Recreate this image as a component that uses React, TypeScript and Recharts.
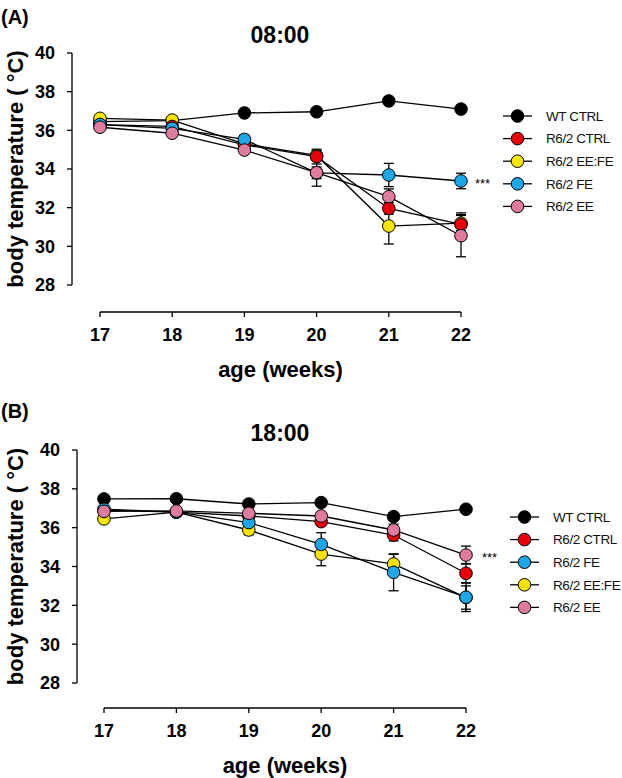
import React from 'react';
import { LineChart, Line, XAxis, YAxis, ErrorBar, Legend } from 'recharts';

// ---------- data ----------
const weeks = [17, 18, 19, 20, 21, 22];
const xTicks = [17, 18, 19, 20, 21, 22];
const yTicks = [28, 30, 32, 34, 36, 38, 40];

// Panel A (08:00)
const aWT = [36.45, 36.5, 36.9, 36.96, 37.52, 37.1];
const aWTErr = [0.1, 0.1, 0.1, 0.1, 0.1, 0.1];
const aCTRL = [36.3, 36.2, 35.25, 34.64, 31.96, 31.13];
const aCTRLErr = [0.1, 0.1, 0.15, 0.38, 0.3, 0.6];
const aEEFE = [36.62, 36.53, 35.3, 34.7, 31.05, 31.2];
const aEEFEErr = [0.1, 0.1, 0.15, 0.25, 0.93, 0.4];
const aFE = [36.3, 36.1, 35.53, 33.8, 33.69, 33.38];
const aFEErr = [0.1, 0.1, 0.23, 0.3, 0.6, 0.4];
const aEE = [36.16, 35.85, 34.98, 33.81, 32.57, 30.55];
const aEEErr = [0.1, 0.1, 0.15, 0.7, 0.4, 1.09];

// Panel B (18:00)
const bWT = [37.48, 37.49, 37.22, 37.29, 36.57, 36.95];
const bWTErr = [0.1, 0.1, 0.1, 0.1, 0.1, 0.1];
const bCTRL = [36.9, 36.8, 36.6, 36.31, 35.62, 33.65];
const bCTRLErr = [0.1, 0.1, 0.15, 0.2, 0.3, 0.5];
const bFE = [36.95, 36.8, 36.26, 35.14, 33.7, 32.42];
const bFEErr = [0.1, 0.1, 0.2, 0.6, 0.95, 0.74];
const bEEFE = [36.45, 36.8, 35.88, 34.64, 34.13, 32.4];
const bEEFEErr = [0.2, 0.1, 0.25, 0.6, 0.5, 0.6];
const bEE = [36.84, 36.86, 36.74, 36.6, 35.88, 34.59];
const bEEErr = [0.1, 0.1, 0.1, 0.15, 0.3, 0.46];

const names = {
  WT: 'WT CTRL',
  CTRL: 'R6/2 CTRL',
  EEFE: 'R6/2 EE:FE',
  FE: 'R6/2 FE',
  EE: 'R6/2 EE',
};
const colors = {
  WT: '#000000',
  CTRL: '#e8000b',
  EEFE: '#f7e400',
  FE: '#1ea7e6',
  EE: '#e07ba0',
};

type Series = { key: string; name: string; color: string; values: number[]; errors: number[] };

const seriesA: Series[] = [
  { key: 'WT', name: names.WT, color: colors.WT, values: aWT, errors: aWTErr },
  { key: 'EEFE', name: names.EEFE, color: colors.EEFE, values: aEEFE, errors: aEEFEErr },
  { key: 'CTRL', name: names.CTRL, color: colors.CTRL, values: aCTRL, errors: aCTRLErr },
  { key: 'FE', name: names.FE, color: colors.FE, values: aFE, errors: aFEErr },
  { key: 'EE', name: names.EE, color: colors.EE, values: aEE, errors: aEEErr },
];
const legendA = ['WT', 'CTRL', 'EEFE', 'FE', 'EE'];

const seriesB: Series[] = [
  { key: 'WT', name: names.WT, color: colors.WT, values: bWT, errors: bWTErr },
  { key: 'CTRL', name: names.CTRL, color: colors.CTRL, values: bCTRL, errors: bCTRLErr },
  { key: 'EEFE', name: names.EEFE, color: colors.EEFE, values: bEEFE, errors: bEEFEErr },
  { key: 'FE', name: names.FE, color: colors.FE, values: bFE, errors: bFEErr },
  { key: 'EE', name: names.EE, color: colors.EE, values: bEE, errors: bEEErr },
];
const legendB = ['WT', 'CTRL', 'FE', 'EEFE', 'EE'];

function buildRows(series: Series[]) {
  return weeks.map((w, i) => {
    const r: any = { week: w };
    series.forEach((s) => {
      r[s.key] = s.values[i];
      r[s.key + 'Err'] = s.errors[i];
    });
    return r;
  });
}

const FONT = '"Liberation Sans", Arial, sans-serif';

type PanelProps = {
  top: number;
  height: number;
  marginTop: number;
  marginRight: number;
  yAxisWidth: number;
  yGap: number;
  xGap: number;
  xAxisHeight: number;
  series: Series[];
  legendOrder: string[];
  legendLeft: number;
  legendTop: number;
  letter: string;
  title: string;
  letterTop: number;
  titleTop: number;
  starLeft: number;
  starTop: number;
};

function makeLegend(order: string[]) {
  const rowH = 22.6;
  return () => (
    <svg width={130} height={order.length * rowH + 4} style={{ display: 'block' }}>
      {order.map((k, i) => {
        const cy = 10 + i * rowH;
        return (
          <g key={k}>
            <line x1={3} x2={32} y1={cy} y2={cy} stroke="#000" strokeWidth={1.3} />
            <circle cx={17.5} cy={cy} r={6.3} fill={(colors as any)[k]} stroke="#000" strokeWidth={1} />
            <text
              x={46}
              y={cy}
              dy="0.36em"
              fontFamily={FONT}
              fontSize={13.5}
              letterSpacing={-0.4}
              fill="#111"
            >
              {(names as any)[k]}
            </text>
          </g>
        );
      })}
    </svg>
  );
}

function Panel(p: PanelProps) {
  const data = buildRows(p.series);
  const yLabel = (props: any) => {
    const vb = props.viewBox || {};
    const cy = (vb.y ?? 0) + (vb.height ?? 0) / 2;
    return (
      <text
        x={15}
        y={cy}
        transform={`rotate(-90, 15, ${cy})`}
        textAnchor="middle"
        dominantBaseline="central"
        fontFamily={FONT}
        fontWeight="bold"
        fontSize={22}
        fill="#000"
      >
        body temperature ( °C)
      </text>
    );
  };
  const xLabel = (props: any) => {
    const vb = props.viewBox || {};
    const cx = (vb.x ?? 0) + (vb.width ?? 0) / 2;
    const y = (vb.y ?? 0) + 57;
    return (
      <text
        x={cx}
        y={y}
        textAnchor="middle"
        dominantBaseline="central"
        fontFamily={FONT}
        fontWeight="bold"
        fontSize={22}
        fill="#000"
      >
        age (weeks)
      </text>
    );
  };
  const tickStyle = { fontFamily: FONT, fontWeight: 'bold', fontSize: 18, fill: '#000' };
  return (
    <div style={{ position: 'absolute', left: 0, top: p.top, width: 622, height: p.height }}>
      <div
        style={{
          position: 'absolute',
          left: 1,
          top: p.letterTop,
          fontFamily: FONT,
          fontWeight: 'bold',
          fontSize: 20,
          lineHeight: '22px',
        }}
      >
        {p.letter}
      </div>
      <div
        style={{
          position: 'absolute',
          left: 180,
          width: 200,
          textAlign: 'center',
          top: p.titleTop,
          fontFamily: FONT,
          fontWeight: 'bold',
          fontSize: 23,
          lineHeight: '26px',
        }}
      >
        {p.title}
      </div>
      <div
        style={{
          position: 'absolute',
          left: p.starLeft,
          top: p.starTop,
          fontFamily: FONT,
          fontSize: 13,
          lineHeight: '14px',
        }}
      >
        ***
      </div>
      <LineChart
        width={622}
        height={p.height}
        data={data}
        margin={{ top: p.marginTop, right: p.marginRight, bottom: 0, left: 0 }}
      >
        <XAxis
          xAxisId="gap"
          type="number"
          dataKey="week"
          domain={[17, 22]}
          height={p.xGap}
          tick={false}
          tickLine={false}
          axisLine={false}
        />
        <XAxis
          xAxisId="x"
          type="number"
          dataKey="week"
          domain={[17, 22]}
          ticks={xTicks}
          height={p.xAxisHeight}
          tickSize={5}
          tickMargin={11}
          tick={tickStyle}
          axisLine={{ stroke: '#000', strokeWidth: 1.3 }}
          tickLine={{ stroke: '#000', strokeWidth: 1.3 }}
          label={{ content: xLabel }}
        />
        <YAxis
          yAxisId="gap"
          type="number"
          domain={[28, 40]}
          width={p.yGap}
          tick={false}
          tickLine={false}
          axisLine={false}
        />
        <YAxis
          yAxisId="y"
          type="number"
          domain={[28, 40]}
          ticks={yTicks}
          width={p.yAxisWidth}
          tickSize={5}
          tickMargin={12}
          tick={tickStyle}
          axisLine={{ stroke: '#000', strokeWidth: 1.3 }}
          tickLine={{ stroke: '#000', strokeWidth: 1.3 }}
          label={{ content: yLabel }}
        />
        <Legend
          layout="vertical"
          align="center"
          verticalAlign="middle"
          content={makeLegend(p.legendOrder)}
          wrapperStyle={{ left: p.legendLeft, top: p.legendTop, width: 130 }}
        />
        {p.series.map((s) => (
          <Line
            key={s.key}
            xAxisId="x"
            yAxisId="y"
            dataKey={s.key}
            name={s.name}
            stroke="#000"
            strokeWidth={1.3}
            isAnimationActive={false}
            dot={{ r: 6.3, fill: s.color, stroke: '#000', strokeWidth: 1, fillOpacity: 1 }}
            activeDot={false}
          >
            <ErrorBar dataKey={s.key + 'Err'} width={5} stroke="#000" strokeWidth={1.3} direction="y" />
          </Line>
        ))}
      </LineChart>
    </div>
  );
}

export default function App() {
  return (
    <div
      style={{
        position: 'absolute',
        left: 0,
        top: 0,
        width: 622,
        height: 778,
        background: '#fff',
        overflow: 'hidden',
      }}
    >
      <Panel
        top={0}
        height={390}
        marginTop={53}
        marginRight={161}
        yAxisWidth={72}
        yGap={28}
        xGap={27}
        xAxisHeight={78}
        series={seriesA}
        legendOrder={legendA}
        legendLeft={500}
        legendTop={106}
        letter="(A)"
        title="08:00"
        letterTop={6}
        titleTop={22}
        starLeft={475}
        starTop={177}
      />
      <Panel
        top={390}
        height={388}
        marginTop={60}
        marginRight={156}
        yAxisWidth={77}
        yGap={27}
        xGap={25}
        xAxisHeight={70}
        series={seriesB}
        legendOrder={legendB}
        legendLeft={507}
        legendTop={117}
        letter="(B)"
        title="18:00"
        letterTop={10}
        titleTop={30}
        starLeft={482}
        starTop={161}
      />
    </div>
  );
}
